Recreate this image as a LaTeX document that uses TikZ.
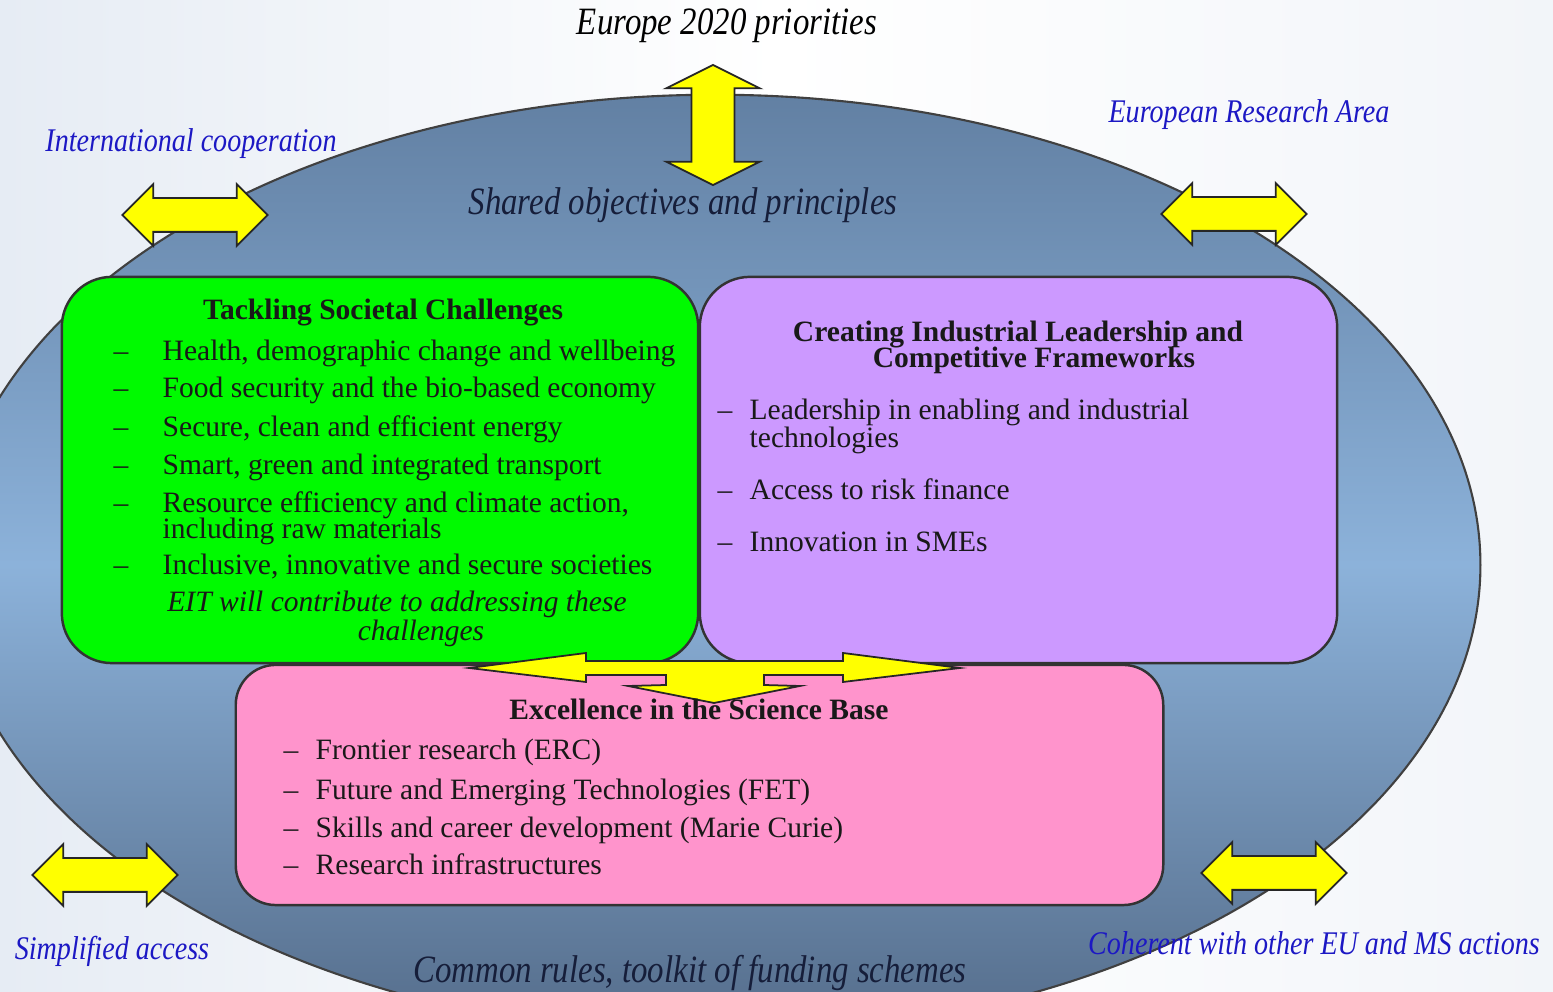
\documentclass[tikz,border=0pt]{standalone}
\usepackage{fontspec}
\setmainfont{Liberation Serif}
\newfontfamily\narrowfont[FakeStretch=0.85]{Liberation Serif}
\usetikzlibrary{shapes.geometric,shapes.arrows}

\definecolor{ringtop}{RGB}{98,128,163}
\definecolor{ringmid}{RGB}{140,178,218}
\definecolor{ringbot}{RGB}{84,108,138}
\definecolor{societalgreen}{RGB}{0,250,0}
\definecolor{industrialpurple}{RGB}{204,153,255}
\definecolor{sciencepink}{RGB}{255,148,204}
\definecolor{linkblue}{RGB}{28,24,196}
\definecolor{darknavy}{RGB}{22,30,58}
\definecolor{flowyellow}{RGB}{255,255,0}
\definecolor{backleft}{RGB}{230,236,244}
\definecolor{backright}{RGB}{242,245,249}

\newcommand{\gdash}{\makebox[0.49cm][l]{--}}
\newcommand{\pdash}{\makebox[0.32cm][l]{--}}

\tikzset{
  panel/.style={draw=black!80, line width=0.7pt, rounded corners=0.5cm, inner sep=0pt},
  flowarrow/.style={double arrow, draw=black!85, fill=flowyellow, line width=0.5pt, inner xsep=0pt},
  sideflow/.style={flowarrow, minimum height=1.45cm, inner ysep=0.16cm,
    double arrow head extend=0.14cm, double arrow tip angle=90},
  boxtext/.style={font=\fontsize{8.4}{10}\selectfont, text=black!90, inner sep=0pt},
  item/.style={boxtext, anchor=base west},
  panelhead/.style={boxtext, anchor=base, font=\fontsize{8.4}{10}\selectfont\bfseries},
  panelnote/.style={boxtext, anchor=base, font=\fontsize{8.4}{10}\selectfont\itshape},
  rimlabel/.style={anchor=base, inner sep=0pt, text=linkblue,
    font=\narrowfont\itshape\fontsize{9.4}{11}\selectfont},
  midlabel/.style={anchor=base, inner sep=0pt, text=darknavy,
    font=\narrowfont\itshape\fontsize{11}{13}\selectfont}
}

\begin{document}
\begin{tikzpicture}[x=0.01cm, y=-0.01cm]
	\useasboundingbox (0,0) rectangle (1553,992);
	\clip (0,0) rectangle (1553,992);
	\shade[left color=backleft, right color=backright, middle color=white] (0,0) rectangle (1553,992);

	\node	(ring) at (715,565) [ellipse, draw=black!75, line width=0.6pt, minimum width=15.3cm, minimum height=9.4cm,
		top color=ringtop, bottom color=ringbot, middle color=ringmid] {};

	\node	(priorities) at (713,125) [flowarrow, rotate=90, minimum height=1.20cm, inner ysep=0.205cm,
		double arrow head extend=0.255cm, double arrow tip angle=127] {};
	\node	(intl) at (195,215) [sideflow] {};
	\node	(era) at (1234,214) [sideflow] {};
	\node	(access) at (105,875) [sideflow] {};
	\node	(coherent) at (1274,873) [sideflow] {};

	\node	(societal) at (380,470) [panel, fill=societalgreen, minimum width=6.36cm, minimum height=3.86cm] {};
	\node	(industrial) at (1018.5,470) [panel, fill=industrialpurple, minimum width=6.37cm, minimum height=3.86cm] {};
	\node	(science) at (699.5,785) [panel, fill=sciencepink, minimum width=9.27cm, minimum height=2.40cm, rounded corners=0.4cm] {};

	\draw[draw=black!85, fill=flowyellow, line width=0.5pt]
	(469,668) -- (586,653) -- (586,661) -- (843,661) -- (843,653) -- (960,668) -- (843,682) -- (843,675)
	-- (764,675) -- (764,685) -- (800,686) -- (714,703) -- (628,686) -- (666,685) -- (666,675)
	-- (586,675) -- (586,682) -- cycle;

	\node	(tsc) at (383,320) [panelhead] {Tackling Societal Challenges};
	\node	(health) at (113,361) [item] {\gdash Health, demographic change and wellbeing};
	\node	(food) at (113,398) [item] {\gdash Food security and the bio-based economy};
	\node	(energy) at (113,437) [item] {\gdash Secure, clean and efficient energy};
	\node	(transport) at (113,475) [item] {\gdash Smart, green and integrated transport};
	\node	(resource) at (113,513) [item] {\gdash Resource efficiency and climate action,};
	\node	(rawmat) at (162,539) [item] {including raw materials};
	\node	(societies) at (113,575) [item] {\gdash Inclusive, innovative and secure societies};
	\node	(eit) at (397,612) [panelnote] {EIT will contribute to addressing these};
	\node	(eitend) at (421,641) [panelnote] {challenges};

	\node	(cil) at (1018,342) [panelhead] {Creating Industrial Leadership and};
	\node	(cilend) at (1034,368) [panelhead] {Competitive Frameworks};
	\node	(leadership) at (717,420) [item] {\pdash Leadership in enabling and industrial};
	\node	(techs) at (749,448) [item] {technologies};
	\node	(finance) at (717,500) [item] {\pdash Access to risk finance};
	\node	(smes) at (717,552) [item] {\pdash Innovation in SMEs};

	\node	(esb) at (699,720) [panelhead] {Excellence in the Science Base};
	\node	(erc) at (283,760) [item] {\pdash Frontier research (ERC)};
	\node	(fet) at (283,800) [item] {\pdash Future and Emerging Technologies (FET)};
	\node	(marie) at (283,838) [item] {\pdash Skills and career development (Marie Curie)};
	\node	(infra) at (283,875) [item] {\pdash Research infrastructures};

	\node	(europe) at (727,35) [midlabel, text=black] {Europe 2020 priorities};
	\node	(shared) at (683,215) [midlabel] {Shared objectives and principles};
	\node	(common) at (690,983) [midlabel] {Common rules, toolkit of funding schemes};
	\node	(intllabel) at (191,152) [rimlabel] {International cooperation};
	\node	(eralabel) at (1249,123) [rimlabel] {European Research Area};
	\node	(accesslabel) at (112,960) [rimlabel] {Simplified access};
	\node	(coherentlabel) at (1314,955) [rimlabel] {Coherent with other EU and MS actions};
\end{tikzpicture}
\end{document}
